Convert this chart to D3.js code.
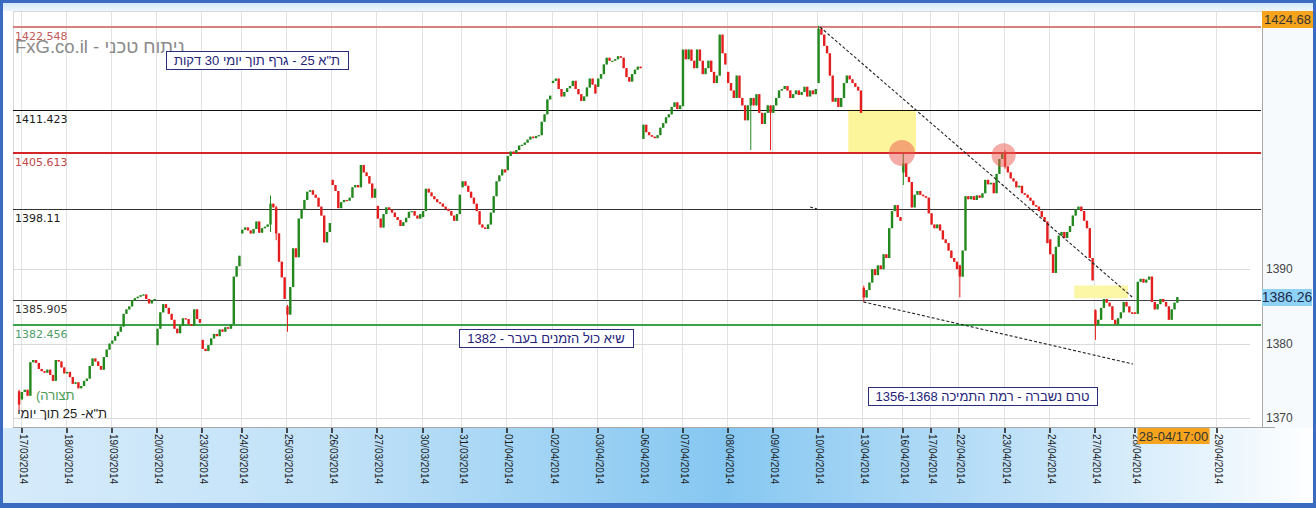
<!DOCTYPE html>
<html><head><meta charset="utf-8">
<script src="https://cdn.jsdelivr.net/npm/d3@7"></script>
<style>html,body{margin:0;padding:0;background:#fff;overflow:hidden}</style>
</head><body><svg id="c" width="1316" height="508"></svg>
<script>
// ---------------- DATA ----------------
const dayLabels = ["", "17/03/2014","18/03/2014","19/03/2014","20/03/2014","23/03/2014","24/03/2014","25/03/2014",
  "26/03/2014","27/03/2014","30/03/2014","31/03/2014","01/04/2014","02/04/2014","03/04/2014","06/04/2014",
  "07/04/2014","08/04/2014","09/04/2014","10/04/2014","13/04/2014","16/04/2014","17/04/2014","22/04/2014",
  "23/04/2014","24/04/2014","27/04/2014","28/04/2014","29/04/2014"];
const daySlots = [1,16,16,16,16,14,16,16,16,16,14,16,16,16,16,14,16,16,16,16,14,10,10,16,16,16,14,29,0];
const dayOpens = [1373.6,1372.5,1376.0,1380.0,1379.8,1380.5,1394.8,1385.0,1402.0,1398.5,1397.0,1401.0,1403.3,1415.0,
  1414.5,1407.5,1411.9,1416.5,1411.0,1415.0,1387.5,1403.0,1397.5,1390.5,1405.6,1394.0,1384.5,1384.2,0];
const closes = [
  [1371.8],
  [1373.5,1373.8,1373.0,1377.5,1377.8,1377.4,1376.6,1376.3,1376.1,1376.5,1375.8,1375.0,1377.8,1377.6,1376.8,1376.0],
  [1376.2,1375.5,1374.6,1374.8,1374.0,1374.3,1375.0,1375.3,1377.0,1378.0,1377.6,1377.0,1376.5,1378.2,1379.2,1380.0],
  [1380.4,1381.0,1381.6,1382.3,1384.0,1384.6,1385.0,1385.8,1386.1,1386.3,1386.5,1386.6,1386.0,1385.4,1385.8,1386.0],
  [1382.0,1384.2,1385.3,1384.8,1384.0,1383.2,1382.0,1381.4,1382.4,1383.4,1383.3,1382.6,1382.4,1384.6,1383.3,1382.8],
  [1379.3,1379.0,1379.8,1380.7,1381.3,1381.0,1381.9,1381.6,1382.2,1382.0,1382.6,1389.0,1390.4,1391.8],
  [1395.3,1395.6,1395.2,1394.8,1395.4,1396.4,1394.9,1395.5,1395.7,1396.0,1398.8,1398.3,1394.8,1391.0,1388.9,1386.0],
  [1383.9,1387.6,1392.8,1391.6,1396.8,1398.0,1399.3,1400.4,1400.6,1400.0,1399.6,1398.4,1397.2,1393.6,1395.0,1396.2],
  [1401.3,1400.5,1398.2,1399.0,1399.3,1399.2,1399.6,1401.0,1401.3,1401.0,1404.0,1403.0,1402.5,1401.5,1399.6,1400.8],
  [1396.8,1395.6,1397.4,1398.3,1398.0,1397.6,1397.0,1396.6,1395.8,1396.3,1396.9,1397.7,1397.8,1397.2,1396.8,1397.4],
  [1397.8,1400.8,1400.3,1399.8,1399.4,1399.0,1398.8,1398.4,1398.1,1397.8,1397.2,1396.5,1397.4,1400.0],
  [1401.8,1401.2,1400.4,1399.6,1398.8,1397.8,1396.0,1395.6,1395.4,1396.0,1397.6,1399.8,1401.8,1402.6,1403.4,1403.0],
  [1405.2,1405.8,1405.6,1406.0,1406.6,1406.7,1407.0,1407.4,1407.8,1407.6,1407.9,1408.0,1409.8,1410.8,1412.8,1413.3],
  [1415.3,1415.6,1414.2,1413.2,1413.8,1414.3,1414.6,1415.3,1414.2,1413.5,1412.6,1413.2,1414.4,1415.6,1414.8,1413.6],
  [1415.6,1416.2,1417.5,1418.4,1418.0,1418.0,1418.2,1418.6,1418.4,1417.0,1415.8,1415.2,1416.2,1416.8,1417.2,1417.0],
  [1409.4,1408.4,1408.0,1407.8,1407.6,1408.0,1409.0,1409.6,1410.4,1410.8,1411.8,1412.4,1411.5,1412.0],
  [1419.5,1418.2,1419.5,1418.0,1417.0,1419.5,1418.0,1416.2,1417.0,1418.0,1416.5,1415.0,1416.0,1421.5,1419.0,1417.5],
  [1415.0,1414.0,1413.0,1416.0,1413.0,1412.0,1410.0,1412.0,1413.0,1412.0,1413.5,1411.0,1409.5,1411.0,1412.0,1411.0],
  [1412.0,1413.0,1414.0,1414.2,1414.6,1414.0,1413.0,1413.5,1414.0,1413.4,1413.8,1414.5,1413.2,1414.0,1413.5,1414.2],
  [1422.3,1421.5,1420.0,1419.0,1416.0,1412.5,1413.0,1411.8,1413.0,1415.0,1416.0,1415.5,1415.0,1414.5,1414.0,1411.0],
  [1386.2,1387.2,1388.2,1390.0,1389.2,1390.5,1390.0,1392.0,1391.5,1395.5,1397.8,1398.6,1397.0,1396.5],
  [1404.2,1402.4,1401.7,1398.3,1400.0,1400.5,1400.0,1399.8,1399.6,1397.5],
  [1396.0,1395.5,1396.0,1395.2,1394.0,1393.5,1392.5,1391.5,1391.0,1390.0],
  [1389.0,1392.5,1399.8,1399.4,1399.8,1399.3,1399.9,1399.6,1400.2,1402.0,1401.4,1401.6,1400.2,1402.8,1404.8,1405.5],
  [1403.8,1403.0,1402.2,1401.8,1401.0,1401.2,1400.2,1400.0,1399.6,1399.2,1398.6,1398.4,1397.8,1397.0,1396.4,1393.5],
  [1392.0,1389.5,1393.0,1394.5,1395.0,1394.2,1395.0,1395.8,1397.2,1398.0,1398.4,1397.8,1396.5,1395.5,1391.5,1388.5],
  [1382.5,1383.2,1384.8,1386.0,1385.5,1385.0,1383.2,1382.6,1383.4,1384.2,1385.6,1385.0,1384.2,1384.0],
  [1384.0,1388.3,1388.7,1388.2,1388.6,1389.0,1385.6,1384.6,1385.3,1386.0,1385.6,1385.0,1383.2,1384.6,1385.5,1386.26],
  []
];
// notable wicks: [slot index, low, high]
const wicks = [[0,1371.0,1373.8],[89,1395.0,1399.9],[91,1393.9,1398.5],[95,1381.6,1385.2],[259,1406.0,1412.5],
  [266,1406.0,1411.5],[283,1415.0,1422.7],[299,1385.6,1387.8],[313,1401.3,1405.5],[333,1386.2,1390.6],
  [349,1403.5,1406.0],[381,1380.5,1384.6]];
const levelValues = [1422.548, 1411.423, 1405.613, 1398.11, 1385.905, 1382.456];
const levelLabels = ["1422.548","1411.423","1405.613","1398.11","1385.905","1382.456"];
const yTicks = [1370, 1380, 1390];
const trendLines = [[[284,1422.53],[394.5,1386.26]], [[299.4,1385.6],[394.8,1377.26]], [[280.5,1398.35],[283,1398.08]]];
const zones = [[294,318,1405.613,1411.423],[374,393,1386.1,1387.8]];
const markers = [[313,1405.613],[349,1405.3]];
const maxPrice = 1424.68, minPrice = 1368.8, lastPrice = 1386.26;
const lastTimeLabel = "28-04/17:00";
const titleText = "FxG.co.il - ניתוח טכני";
const noteTexts = ["ת\"א 25 - גרף תוך יומי 30 דקות", "שיא כול הזמנים בעבר - 1382", "טרם נשברה - רמת  התמיכה 1356-1368"];
const legendTexts = ["(תצורה", "ת\"א- 25 תוך יומי"];

// ---------------- DRAW ----------------
const svg = d3.select("#c");
const W = 1316, H = 508;
const plot = {l:13, r:1262, t:11, b:427};
const x = d3.scaleLinear().domain([1, 424]).range([20.5, 1215.5]);
const y = d3.scaleLinear().domain([minPrice, maxPrice]).range([plot.b, plot.t]);
const FONT = "'Liberation Sans', Arial, sans-serif";

const defs = svg.append("defs");
const bg = defs.append("linearGradient").attr("id","bot").attr("x1","0").attr("x2","1").attr("y1","0").attr("y2","0");
bg.append("stop").attr("offset","0").attr("stop-color","#d6ebfb");
bg.append("stop").attr("offset","0.25").attr("stop-color","#c2e2f8");
bg.append("stop").attr("offset","0.55").attr("stop-color","#86c7f1");
bg.append("stop").attr("offset","0.8").attr("stop-color","#c6e4f9");
bg.append("stop").attr("offset","1").attr("stop-color","#ffffff");
const tg = defs.append("linearGradient").attr("id","top").attr("x1","0").attr("x2","0").attr("y1","0").attr("y2","1");
tg.append("stop").attr("offset","0").attr("stop-color","#c9e3f8");
tg.append("stop").attr("offset","1").attr("stop-color","#eef6fd");

svg.append("rect").attr("width",W).attr("height",H).attr("fill","#ffffff");
svg.append("rect").attr("x",0).attr("y",0).attr("width",W).attr("height",plot.t).attr("fill","url(#top)");
svg.append("rect").attr("x",0).attr("y",plot.b+1).attr("width",W).attr("height",H-plot.b).attr("fill","url(#bot)");
svg.append("rect").attr("x",plot.r).attr("y",plot.t).attr("width",W-plot.r).attr("height",plot.b-plot.t+1).attr("fill","#f6fafd");
svg.append("rect").attr("x",plot.l).attr("y",plot.t).attr("width",plot.r-plot.l).attr("height",plot.b-plot.t).attr("fill","#ffffff");

// day starts
const dayStart = [];
let acc = 0;
daySlots.forEach((n,i)=>{ dayStart.push(acc); acc += n; });

// vertical grid
const g = svg.append("g");
dayLabels.forEach((lab,i)=>{
  if(!lab) return;
  const xx = Math.round(x(dayStart[i]))+0.5;
  g.append("line").attr("x1",xx).attr("x2",xx).attr("y1",plot.t).attr("y2",plot.b).attr("stroke","#e3e3e3");
});
yTicks.forEach(v=>{
  g.append("line").attr("x1",plot.l).attr("x2",1250).attr("y1",Math.round(y(v))+0.5).attr("y2",Math.round(y(v))+0.5).attr("stroke","#dadada");
});
// plot frame
g.append("line").attr("x1",plot.l).attr("x2",plot.r).attr("y1",plot.t+0.5).attr("y2",plot.t+0.5).attr("stroke","#d8d8d8");
g.append("line").attr("x1",plot.l+0.5).attr("x2",plot.l+0.5).attr("y1",plot.t).attr("y2",plot.b).attr("stroke","#d8d8d8");
g.append("line").attr("x1",plot.l).attr("x2",1275).attr("y1",plot.b+0.5).attr("y2",plot.b+0.5).attr("stroke","#a8a8a8");
g.append("line").attr("x1",plot.r+0.5).attr("x2",plot.r+0.5).attr("y1",plot.t).attr("y2",plot.b).attr("stroke","#a8a8a8");

// zones
zones.forEach((z,i)=>{
  svg.append("rect").attr("x",x(z[0])).attr("width",x(z[1])-x(z[0]))
    .attr("y",y(z[3])).attr("height",y(z[2])-y(z[3]))
    .attr("fill", i===0 ? "#fdf59c" : "#fcf7a6");
});

// levels
const levelColors = ["#d68080","#111111","#d42626","#333333","#444444","#3ea24c"];
const levelWidths = [2,1,2,1,1,2];
const labelColors = ["#c25a5a","#1a1a1a","#c04848","#1a1a1a","#333333","#4f9c6c"];
levelValues.forEach((v,i)=>{
  const yy = levelWidths[i]===1 ? Math.round(y(v))+0.5 : Math.round(y(v));
  svg.append("line").attr("x1",plot.l).attr("x2",plot.r-1).attr("y1",yy).attr("y2",yy)
    .attr("stroke",levelColors[i]).attr("stroke-width",levelWidths[i]);
  svg.append("text").attr("x",15).attr("y",y(v)+13).text(levelLabels[i])
    .attr("font-family","'DejaVu Sans', Verdana, sans-serif").attr("font-size",11).attr("fill",labelColors[i]);
});

// watermark
svg.append("text").attr("x",15).attr("y",53).text(titleText)
  .attr("font-family",FONT).attr("font-size",18.5).attr("fill","#8a8a8a");

// candles
const cg = svg.append("g");
closes.forEach((dayC, d)=>{
  let prev = dayOpens[d];
  dayC.forEach((c,k)=>{
    const idx = dayStart[d]+k;
    const o = prev;
    const w = wicks.find(q=>q[0]===idx);
    let hi = Math.max(o,c), lo = Math.min(o,c);
    if(w){ lo = Math.min(lo,w[1]); hi = Math.max(hi,w[2]); }
    const cx = x(idx+0.5);
    const col = c>=o ? "#23891f" : "#e41e1e";
    cg.append("line").attr("x1",cx).attr("x2",cx).attr("y1",y(hi)).attr("y2",y(lo)).attr("stroke",col).attr("stroke-width",1);
    const top = y(Math.max(o,c)), bot = y(Math.min(o,c));
    cg.append("rect").attr("x",cx-1.2).attr("width",2.4).attr("y",top).attr("height",Math.max(1.2,bot-top)).attr("fill",col);
    prev = c;
  });
});

// trend lines
trendLines.forEach(t=>{
  svg.append("line").attr("x1",x(t[0][0])).attr("y1",y(t[0][1])).attr("x2",x(t[1][0])).attr("y2",y(t[1][1]))
    .attr("stroke","#222").attr("stroke-width",1.1).attr("stroke-dasharray","3,2");
});

// markers
markers.forEach((m,i)=>{
  svg.append("circle").attr("cx",x(m[0])).attr("cy",y(m[1])).attr("r", i===0?13:12)
    .attr("fill","#ec5a4e").attr("fill-opacity",0.5);
});

// note boxes
const boxes = [[166,51,182,18],[459,329,174,18],[868,387,229,18]];
noteTexts.forEach((t,i)=>{
  const b = boxes[i];
  svg.append("rect").attr("x",b[0]+0.5).attr("y",b[1]+0.5).attr("width",b[2]).attr("height",b[3])
    .attr("fill","#ffffff").attr("stroke","#2b2d7c").attr("stroke-width",1);
  svg.append("text").attr("x",b[0]+b[2]/2).attr("y",b[1]+14).attr("text-anchor","middle").attr("direction","rtl")
    .attr("font-family",FONT).attr("font-size",13).attr("fill","#23237a").text(t);
});

// legend-like texts bottom left
svg.append("text").attr("x",36).attr("y",400).text(legendTexts[0]).attr("font-family",FONT).attr("font-size",13).attr("fill","#4c9a54");
svg.append("text").attr("x",107).attr("y",418).attr("text-anchor","start").attr("direction","rtl").text(legendTexts[1])
  .attr("font-family",FONT).attr("font-size",13).attr("fill","#222");

// right axis labels
yTicks.forEach(v=>{
  svg.append("text").attr("x",1266).attr("y",y(v)+4).text(v).attr("font-family",FONT).attr("font-size",12).attr("fill","#444");
});
svg.append("rect").attr("x",plot.r).attr("y",11).attr("width",51).attr("height",17).attr("fill","#f6a41d");
svg.append("text").attr("x",plot.r+25.5).attr("y",24).attr("text-anchor","middle").text(maxPrice)
  .attr("font-family",FONT).attr("font-size",13).attr("fill","#333");
svg.append("rect").attr("x",plot.r).attr("y",y(lastPrice)-8).attr("width",50).attr("height",17).attr("fill","#8ed2f6");
svg.append("text").attr("x",plot.r+25).attr("y",y(lastPrice)+5).attr("text-anchor","middle").text(lastPrice)
  .attr("font-family",FONT).attr("font-size",14).attr("fill","#1c2b4d");

// x labels
dayLabels.forEach((lab,i)=>{
  if(!lab) return;
  const xx = Math.round(x(dayStart[i]))+0.5;
  svg.append("line").attr("x1",xx+0.5).attr("x2",xx+0.5).attr("y1",428).attr("y2",433).attr("stroke","#222").attr("stroke-width",1.6);
  svg.append("text").attr("transform",`translate(${xx+1.5},434) rotate(90)`).attr("dy","0.35em").text(lab)
    .attr("font-family",FONT).attr("font-size",10).attr("fill","#1a1a1a");
});
// last time label
const lx = x(dayStart[27]) + 4;
svg.append("rect").attr("x",lx).attr("y",428).attr("width",72).attr("height",16).attr("fill","#f6a41d");
svg.append("text").attr("x",lx+36).attr("y",441).attr("text-anchor","middle").text(lastTimeLabel)
  .attr("font-family",FONT).attr("font-size",13).attr("fill","#333");

// outer frame
svg.append("rect").attr("x",1.5).attr("y",1.5).attr("width",W-3).attr("height",H-3).attr("fill","none").attr("stroke","#3a6bc1").attr("stroke-width",3);
svg.append("rect").attr("x",0).attr("y",503).attr("width",W).attr("height",5).attr("fill","#3a6bc1");
</script></body></html>
